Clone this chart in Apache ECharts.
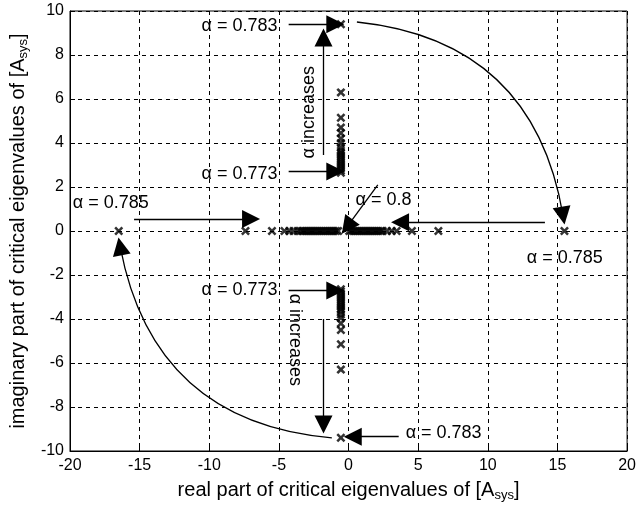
<!DOCTYPE html>
<html><head><meta charset="utf-8">
<script src="https://cdn.jsdelivr.net/npm/echarts@6/dist/echarts.min.js"></script>
<style>html,body{margin:0;padding:0;background:#fff}#c{width:639px;height:512px}</style>
</head><body><div id="c"></div>
<script>
// Eigenvalue locus data
const imagBranchX = -0.55;
const imagUpperY = [9.4, 6.3, 5.15, 4.7, 4.45, 4.2, 4.0, 3.8, 3.65, 3.55, 3.45, 3.35, 3.25, 3.15, 3.05, 2.95, 2.85, 2.75, 2.65];
const imagLowerY = [-9.4, -6.3, -5.15, -4.5, -4.2, -3.95, -3.8, -3.65, -3.55, -3.45, -3.35, -3.25, -3.15, -3.05, -2.95, -2.85, -2.75, -2.65];
const realLeftX = [-16.5, -7.4, -5.5, -4.6, -4.25, -3.95, -3.65, -3.45, -3.3, -3.15, -3.0, -2.85, -2.7, -2.55, -2.4, -2.25, -2.1, -1.95, -1.8, -1.65, -1.5, -1.35, -1.2, -1.05, -0.9, -0.75];
const realRightX = [15.5, 6.45, 4.55, 3.45, 3.1, 2.75, 2.45, 2.3, 2.15, 2.0, 1.85, 1.7, 1.55, 1.4, 1.25, 1.1, 0.95, 0.8, 0.65, 0.5, 0.35, 0.2, 0.05];
const xRange = [-20, 20], yRange = [-10, 10];
const xStep = 5, yStep = 2;

const pts = [];
imagUpperY.forEach(y => pts.push([imagBranchX, y]));
imagLowerY.forEach(y => pts.push([imagBranchX, y]));
realLeftX.forEach(x => pts.push([x, 0]));
realRightX.forEach(x => pts.push([x, 0]));

const cross = 'path://M0,2L2,0L5,3L8,0L10,2L7,5L10,8L8,10L5,7L2,10L0,8L3,5Z';
const F = 'Liberation Sans, Arial, sans-serif';

function txt(coord, text, align, rotate) {
  return { coord: coord, value: text, symbol: 'circle', symbolSize: 1,
    itemStyle: { color: 'rgba(0,0,0,0)' },
    label: { show: true, position: 'inside', formatter: text, color: '#000', fontSize: 18,
      fontFamily: F, align: align || 'center', verticalAlign: 'middle', rotate: rotate || 0 } };
}
function arrowSeries(items, curv) {
  return {
    type: 'lines', coordinateSystem: 'cartesian2d', silent: true, z: 4,
    symbol: ['none', 'triangle'], symbolSize: [11, 18],
    lineStyle: { color: '#000', type: 'solid', width: 1.3, opacity: 1, curveness: curv || 0 },
    itemStyle: { color: '#000' },
    data: items.map(c => ({ coords: c }))
  };
}
const axisName = (t) => '{n|' + t + ' of [A}{s|sys}{n|]}';
const nameRich = { rich: { n: { fontSize: 20, fontFamily: F, color: '#000' }, s: { fontSize: 13, fontFamily: F, color: '#000', verticalAlign: 'bottom', padding: [10, 0, 0, 0] } } };

const chart = echarts.init(document.getElementById('c'));
chart.setOption({
  backgroundColor: '#fff',
  animation: false,
  grid: { left: 70, right: 9, top: 11, bottom: 61, show: true, borderColor: '#000', borderWidth: 1, backgroundColor: 'transparent' },
  xAxis: {
    type: 'value', min: xRange[0], max: xRange[1], interval: xStep,
    axisLine: { show: true, onZero: false, lineStyle: { color: '#000' } },
    axisTick: { inside: true, length: 5, lineStyle: { color: '#000' } },
    axisLabel: { color: '#000', fontSize: 16, fontFamily: F, margin: 7 },
    splitLine: { show: true, lineStyle: { color: '#000', type: [4, 4], width: 1 } },
    name: axisName('real part of critical eigenvalues'),
    nameLocation: 'middle', nameGap: 28, nameTextStyle: nameRich
  },
  yAxis: {
    type: 'value', min: yRange[0], max: yRange[1], interval: yStep,
    axisLine: { show: true, onZero: false, lineStyle: { color: '#000' } },
    axisTick: { inside: true, length: 5, lineStyle: { color: '#000' } },
    axisLabel: { color: '#000', fontSize: 16, fontFamily: F, margin: 6 },
    splitLine: { show: true, lineStyle: { color: '#000', type: [4, 4], width: 1 } },
    name: axisName('imaginary part of critical eigenvalues'),
    nameLocation: 'middle', nameGap: 38, nameTextStyle: nameRich
  },
  series: [{
    type: 'scatter', data: pts, symbol: cross, symbolSize: 9,
    itemStyle: { color: '#000' }, z: 5,
    markPoint: {
      silent: true,
      data: [
        txt([-5.1, 9.3], 'α = 0.783', 'right'),
        txt([-5.1, 2.6], 'α = 0.773', 'right'),
        txt([-5.1, -2.7], 'α = 0.773', 'right'),
        txt([-19.8, 1.27], 'α = 0.785', 'left'),
        txt([0.5, 1.4], 'α = 0.8', 'left'),
        txt([12.8, -1.23], 'α = 0.785', 'left'),
        txt([4.1, -9.2], 'α = 0.783', 'left'),
        txt([-2.85, 5.4], 'α increases', 'center', 90),
        txt([-3.85, -4.95], 'α increases', 'center', -90)
      ]
    }
  },
  arrowSeries([
    [[-4.3, 9.4], [-0.95, 9.4]],
    [[-1.8, 3.45], [-1.8, 8.8]],
    [[-4.3, 2.7], [-0.95, 2.7]],
    [[-15.4, 0.55], [-7.0, 0.55]],
    [[2.1, 2.1], [-0.1, 0.2]],
    [[14.1, 0.4], [3.7, 0.4]],
    [[-4.3, -2.7], [-0.95, -2.7]],
    [[-1.8, -4.0], [-1.8, -8.8]],
    [[3.6, -9.35], [0.3, -9.35]]
  ], 0),
  arrowSeries([
    [[0.6, 9.5], [15.4, 0.7]],
    [[-1.2, -9.4], [-16.4, -0.7]]
  ], 0.38)
  ]
});
</script></body></html>
